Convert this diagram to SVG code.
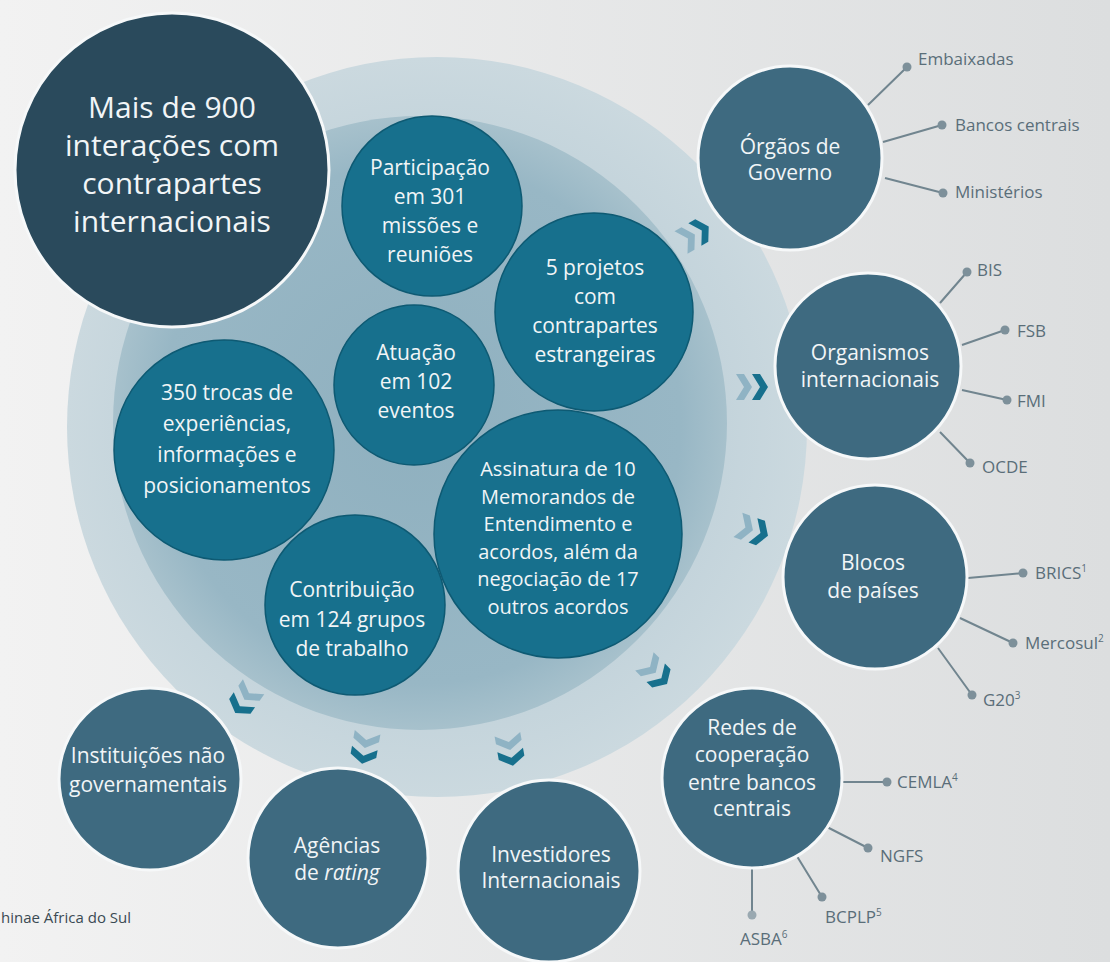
<svg xmlns="http://www.w3.org/2000/svg" width="1110" height="962" viewBox="0 0 1110 962">
<defs>
<linearGradient id="bg" x1="0" y1="0" x2="1" y2="0">
<stop offset="0" stop-color="#f2f2f2"/>
<stop offset="1" stop-color="#dcdedf"/>
</linearGradient>
<radialGradient id="outerG" cx="0.5" cy="0.5" r="0.5">
<stop offset="0.7" stop-color="#c1d2da"/>
<stop offset="1" stop-color="#cbd9df"/>
</radialGradient>
<radialGradient id="midG" cx="0.5" cy="0.5" r="0.5">
<stop offset="0" stop-color="#8fb0bf"/>
<stop offset="0.85" stop-color="#98b7c5"/>
<stop offset="1" stop-color="#a7c1cc"/>
</radialGradient>
<path id="chev" d="M-7,-13 L1,-13 L9,0 L1,13 L-7,13 L1,0 Z"/>
<style>
.teal{fill:#17708d;stroke:#0e5a73;stroke-width:1.5}
.node{fill:#3e6a80;stroke:#f6f8f9;stroke-width:3}
.navy{fill:#2a4a5c;stroke:#f6f8f9;stroke-width:3}
.t{font-family:"Open Sans","DejaVu Sans",sans-serif;fill:#f1f5f7;text-anchor:middle}
.tb{font-size:30px}
.tt{font-size:21px}
.ts{font-size:20px}
.tn{font-size:21px}
.lbl{font-family:"Open Sans","DejaVu Sans",sans-serif;font-size:17px;fill:#5a6e79}
.sup{font-size:10px}
.conn{stroke:#71858f;stroke-width:2;fill:none}
.dot{fill:#7d909a}
.cl{fill:#8fb3c4}
.cd{fill:#17708d}
</style>
</defs>
<rect x="0" y="0" width="1110" height="962" fill="url(#bg)"/>
<g id="rings">
<circle cx="437" cy="427" r="370" fill="url(#outerG)"/>
<circle cx="420" cy="423" r="307" fill="url(#midG)"/>
</g>
<g id="n-participacao">
<circle class="teal" cx="432" cy="206" r="90"/>
<text class="t tt"><tspan x="430" y="175">Participação</tspan><tspan x="430" y="204">em 301</tspan><tspan x="430" y="233">missões e</tspan><tspan x="430" y="262">reuniões</tspan></text>
</g>
<g id="n-projetos">
<circle class="teal" cx="594" cy="312" r="99"/>
<text class="t tt"><tspan x="595" y="275">5 projetos</tspan><tspan x="595" y="304">com</tspan><tspan x="595" y="333">contrapartes</tspan><tspan x="595" y="362">estrangeiras</tspan></text>
</g>
<g id="n-atuacao">
<circle class="teal" cx="414" cy="385" r="80"/>
<text class="t tt"><tspan x="416" y="360">Atuação</tspan><tspan x="416" y="389">em 102</tspan><tspan x="416" y="418">eventos</tspan></text>
</g>
<g id="n-trocas">
<circle class="teal" cx="224" cy="450" r="110"/>
<text class="t tt"><tspan x="227" y="400">350 trocas de</tspan><tspan x="227" y="431">experiências,</tspan><tspan x="227" y="462">informações e</tspan><tspan x="227" y="493">posicionamentos</tspan></text>
</g>
<g id="n-contribuicao">
<circle class="teal" cx="355" cy="605" r="90"/>
<text class="t tt"><tspan x="352" y="597">Contribuição</tspan><tspan x="352" y="627">em 124 grupos</tspan><tspan x="352" y="656">de trabalho</tspan></text>
</g>
<g id="n-assinatura">
<circle class="teal" cx="558" cy="534" r="124"/>
<text class="t ts"><tspan x="558" y="476">Assinatura de 10</tspan><tspan x="558" y="503.5">Memorandos de</tspan><tspan x="558" y="531">Entendimento e</tspan><tspan x="558" y="558.5">acordos, além da</tspan><tspan x="558" y="586">negociação de 17</tspan><tspan x="558" y="613.5">outros acordos</tspan></text>
</g>
<g id="chevrons">
<g transform="translate(694,235) rotate(-30)"><use href="#chev" class="cl" x="-8"/><use href="#chev" class="cd" x="8"/></g>
<g transform="translate(751,387)"><use href="#chev" class="cl" x="-8"/><use href="#chev" class="cd" x="8"/></g>
<g transform="translate(752,530) rotate(20)"><use href="#chev" class="cl" x="-8"/><use href="#chev" class="cd" x="8"/></g>
<g transform="translate(655,672) rotate(45)"><use href="#chev" class="cl" x="-8"/><use href="#chev" class="cd" x="8"/></g>
<g transform="translate(510,749) rotate(80)"><use href="#chev" class="cl" x="-8"/><use href="#chev" class="cd" x="8"/></g>
<g transform="translate(365,747) rotate(100)"><use href="#chev" class="cl" x="-8"/><use href="#chev" class="cd" x="8"/></g>
<g transform="translate(245,699) rotate(125)"><use href="#chev" class="cl" x="-8"/><use href="#chev" class="cd" x="8"/></g>
</g>
<g id="n-mais">
<circle class="navy" cx="172" cy="170" r="157"/>
<text class="t tb"><tspan x="172" y="118">Mais de 900</tspan><tspan x="172" y="156">interações com</tspan><tspan x="172" y="194">contrapartes</tspan><tspan x="172" y="232">internacionais</tspan></text>
</g>
<g id="connectors">
<path class="conn" d="M868,105 L907,67 M883,142 L942,125 M885,178 L943,193"/>
<path class="conn" d="M940,303 L967,272 M962,345 L1005,330 M962,390 L1007,400 M940,432 L970,463"/>
<path class="conn" d="M968,578 L1023,573 M960,618 L1013,643 M938,648 L972,695"/>
<path class="conn" d="M843,782 L887,782 M827,827 L868,848 M795,853 L822,897 M752,860 L752,915"/>
<g class="dot">
<circle cx="907" cy="67" r="4.5"/><circle cx="942" cy="125" r="4.5"/><circle cx="943" cy="193" r="4.5"/>
<circle cx="967" cy="272" r="4.5"/><circle cx="1005" cy="330" r="4.5"/><circle cx="1007" cy="400" r="4.5"/><circle cx="970" cy="463" r="4.5"/>
<circle cx="1023" cy="573" r="4.5"/><circle cx="1013" cy="643" r="4.5"/><circle cx="972" cy="695" r="4.5"/>
<circle cx="887" cy="782" r="4.5"/><circle cx="868" cy="848" r="4.5"/><circle cx="822" cy="897" r="4.5"/><circle cx="752" cy="915" r="4.5" fill="#9aa9b1"/>
</g>
</g>
<g id="n-orgaos">
<circle class="node" cx="790" cy="158" r="92"/>
<text class="t tn"><tspan x="790" y="154">Órgãos de</tspan><tspan x="790" y="180">Governo</tspan></text>
</g>
<g id="n-organismos">
<circle class="node" cx="868" cy="366" r="93"/>
<text class="t tn"><tspan x="870" y="360">Organismos</tspan><tspan x="870" y="387">internacionais</tspan></text>
</g>
<g id="n-blocos">
<circle class="node" cx="875" cy="577" r="92"/>
<text class="t tn"><tspan x="873" y="570">Blocos</tspan><tspan x="873" y="598">de países</tspan></text>
</g>
<g id="n-redes">
<circle class="node" cx="752" cy="778" r="90"/>
<text class="t tn"><tspan x="752" y="735">Redes de</tspan><tspan x="752" y="762">cooperação</tspan><tspan x="752" y="790">entre bancos</tspan><tspan x="752" y="816">centrais</tspan></text>
</g>
<g id="n-instituicoes">
<circle class="node" cx="150" cy="779" r="91"/>
<text class="t tn"><tspan x="148" y="763">Instituições não</tspan><tspan x="148" y="792">governamentais</tspan></text>
</g>
<g id="n-agencias">
<circle class="node" cx="338" cy="858" r="90"/>
<text class="t tn"><tspan x="337" y="853">Agências</tspan><tspan x="337" y="880">de <tspan font-style="italic">rating</tspan></tspan></text>
</g>
<g id="n-investidores">
<circle class="node" cx="549" cy="871" r="91"/>
<text class="t tn"><tspan x="551" y="862">Investidores</tspan><tspan x="551" y="888">Internacionais</tspan></text>
</g>
<g id="labels">
<text class="lbl" x="918" y="65">Embaixadas</text>
<text class="lbl" x="955" y="131">Bancos centrais</text>
<text class="lbl" x="955" y="198">Ministérios</text>
<text class="lbl" x="977" y="276">BIS</text>
<text class="lbl" x="1017" y="337">FSB</text>
<text class="lbl" x="1017" y="407">FMI</text>
<text class="lbl" x="982" y="473">OCDE</text>
<text class="lbl" x="1035" y="579">BRICS<tspan class="sup" dy="-7">1</tspan></text>
<text class="lbl" x="1025" y="649">Mercosul<tspan class="sup" dy="-7">2</tspan></text>
<text class="lbl" x="983" y="706">G20<tspan class="sup" dy="-7">3</tspan></text>
<text class="lbl" x="897" y="788">CEMLA<tspan class="sup" dy="-7">4</tspan></text>
<text class="lbl" x="880" y="862">NGFS</text>
<text class="lbl" x="825" y="923">BCPLP<tspan class="sup" dy="-7">5</tspan></text>
<text class="lbl" x="740" y="945">ASBA<tspan class="sup" dy="-7">6</tspan></text>
<text x="1" y="923" font-family="'Open Sans','DejaVu Sans',sans-serif" font-size="15" fill="#3a4a53">hinae África do Sul</text>
</g>
</svg>
